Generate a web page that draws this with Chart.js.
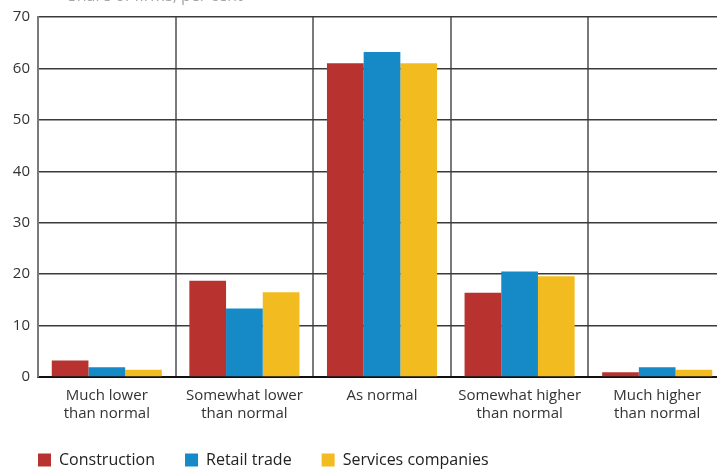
<!DOCTYPE html>
<html>
<head>
<meta charset="utf-8">
<script src="https://cdn.jsdelivr.net/npm/chart.js@4"></script>
<style>
  html, body { margin: 0; padding: 0; overflow: hidden; background: #fff; }
</style>
</head>
<body>
<canvas id="chart" width="726" height="470"></canvas>
<script>
// categories + values
const categories = [
  ['Much lower', 'than normal'],
  ['Somewhat lower', 'than normal'],
  'As normal',
  ['Somewhat higher', 'than normal'],
  ['Much higher', 'than normal']
]
const construction = [3.2, 18.7, 61.0, 16.4, 0.9]
const retailTrade = [1.9, 13.3, 63.2, 20.5, 1.9]
const servicesCompanies = [1.4, 16.5, 61.0, 19.6, 1.4]
const yTicks = [0, 10, 20, 30, 40, 50, 60, 70]

const FONT = "'Open Sans', 'Noto Sans', sans-serif"

// faint heading that is cut off at the top edge
const topText = {
  id: 'topText',
  afterDraw(chart) {
    const ctx = chart.ctx
    ctx.save()
    ctx.font = '16px ' + FONT
    ctx.fillStyle = '#a5a5a5'
    ctx.textBaseline = 'alphabetic'
    ctx.fillText('Share of firms, per cent', 68, 1)
    ctx.restore()
  }
}

new Chart(document.getElementById('chart').getContext('2d'), {
  type: 'bar',
  data: {
    labels: categories,
    datasets: [
      { label: 'Construction', data: construction, backgroundColor: '#b83330' },
      { label: 'Retail trade', data: retailTrade, backgroundColor: '#1689c7' },
      { label: 'Services companies', data: servicesCompanies, backgroundColor: '#f2bc21' }
    ]
  },
  options: {
    responsive: false,
    animation: false,
    layout: { padding: { left: 8, top: 13, right: 0, bottom: -8 } },
    datasets: {
      bar: { categoryPercentage: 0.8, barPercentage: 1.0, borderWidth: 0 }
    },
    plugins: {
      tooltip: { enabled: false },
      legend: {
        position: 'bottom',
        align: 'start',
        labels: {
          boxWidth: 13,
          boxHeight: 13,
          padding: 30,
          color: '#222',
          font: { family: FONT, size: 16 }
        }
      }
    },
    scales: {
      x: {
        grid: { color: '#7a7a7a', lineWidth: 2, drawTicks: false, offset: true },
        border: { color: '#111', width: 2 },
        ticks: {
          color: '#333',
          padding: 10,
          maxRotation: 0,
          font: { family: FONT, size: 15, lineHeight: 1.2 }
        },
        afterFit(scale) { scale.height = 45 }
      },
      y: {
        min: 0,
        max: 70,
        afterBuildTicks(scale) { scale.ticks = yTicks.map(v => ({ value: v })) },
        grid: { color: '#3a3a3a', lineWidth: 1.5, drawTicks: false },
        border: { color: '#7a7a7a', width: 2 },
        ticks: {
          color: '#333',
          padding: 8,
          font: { family: FONT, size: 15 }
        },
        afterFit(scale) { scale.width = 30 }
      }
    }
  },
  plugins: [topText]
})
</script>
</body>
</html>
